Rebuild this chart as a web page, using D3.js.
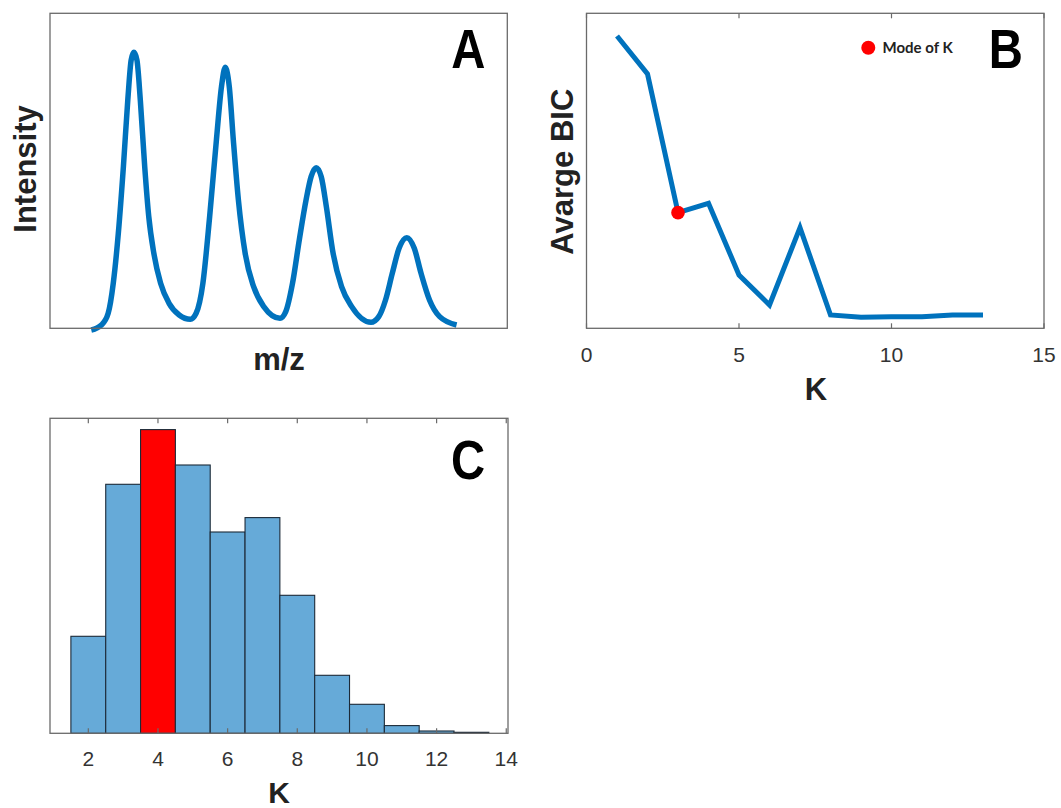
<!DOCTYPE html>
<html><head><meta charset="utf-8">
<script src="https://cdn.jsdelivr.net/npm/d3@7"></script>
<style>body{margin:0;background:#fff}svg{display:block}</style>
</head><body><svg id="c" width="1061" height="808"></svg>
<script>
// ---- Panel A: spectrum (arbitrary units) ----
const mzValues = [27.0,30.0,32.0,33.5,35.0,36.5,37.8,38.8,39.6,40.5,41.5,42.8,44.0,45.5,47.5,50.0,53.0,56.3,58.0,60.0,62.0,64.0,65.5,66.6,67.8,69.0,70.5,72.5,75.0,78.0,82.8,84.5,86.5,88.5,90.5,92.0,93.5,95.0,96.5,98.5,101.0,104.0,109.7,112.0,114.0,116.0,118.0,120.3,122.5,124.5,127.0,130.0,135.0];
const intensityValues = [-0.5,1.0,4.5,13.5,28.5,48.5,68.5,80.5,82.8,80.5,68.5,48.5,33.5,22.5,13.5,7.5,4.0,2.7,4.5,13.5,33.5,56.5,72.5,78.3,72.5,56.5,38.5,22.5,12.5,6.5,3.0,5.0,13.5,26.5,38.5,45.5,48.2,45.5,36.5,22.5,12.5,6.5,1.8,3.5,8.5,16.5,24.0,27.2,24.0,16.5,8.5,3.5,1.0];
const mzDomain = [14.8, 150.0];
const intensityDomain = [0, 94.5];

// ---- Panel B: average BIC vs K ----
const kValues = [1,2,3,4,5,6,7,8,9,10,11,12,13];
const bicValues = [87.7,76.3,34.7,37.5,16.0,7.0,30.2,4.0,3.3,3.5,3.5,4.0,4.0];
const modeK = 3;
const bTicks = [0,5,10,15];
const bDomainX = [0,15];
const bDomainY = [0,94.5];

// ---- Panel C: histogram of K ----
const binCenters = [2,3,4,5,6,7,8,9,10,11,12,13];
const binCounts = [97,249,303.7,268.3,201.3,215.7,138,58,29,7.7,2.3,1];
const histModeK = 4;
const cTicks = [2,4,6,8,10,12,14];
const cDomainX = [0.9,14.05];
const cDomainY = [0,315];

const svg = d3.select('#c');
svg.append('rect').attr('width',1061).attr('height',808).attr('fill','#fff');
const BLUE = '#0072BD', BOX = '#6a6a6a', TXT = '#333', LAB = '#222';
const labFont = 'Liberation Sans, Arial, Helvetica, sans-serif';

function box(g, x0, x1, y0, y1){
  g.append('rect').attr('x',x0).attr('y',y0).attr('width',x1-x0).attr('height',y1-y0)
   .attr('fill','none').attr('stroke',BOX).attr('stroke-width',1.3);
}
function bigLetter(txt, cx, base){
  svg.append('text').attr('transform',`translate(${cx},${base}) scale(0.86,1)`)
    .attr('text-anchor','middle').attr('font-family',labFont).attr('font-weight','bold')
    .attr('font-size',55).attr('fill','#000').text(txt);
}
function xTicks(g, x, ticks, y0, y1, labelY){
  const ax = g.append('g');
  ticks.forEach(t=>{
    ax.append('line').attr('x1',x(t)).attr('x2',x(t)).attr('y1',y1).attr('y2',y1-5).attr('stroke',BOX).attr('stroke-width',1.2);
    ax.append('line').attr('x1',x(t)).attr('x2',x(t)).attr('y1',y0).attr('y2',y0+5).attr('stroke',BOX).attr('stroke-width',1.2);
    ax.append('text').attr('x',x(t)).attr('y',labelY).attr('text-anchor','middle')
      .attr('font-family',labFont).attr('font-size',21).attr('fill',TXT).text(t);
  });
}

// ---------- Panel A ----------
{
  const g = svg.append('g');
  const x = d3.scaleLinear().domain(mzDomain).range([50,507.3]);
  const y = d3.scaleLinear().domain(intensityDomain).range([328.3,13.3]);
  const pts = mzValues.map((m,i)=>[m,intensityValues[i]]);
  g.append('path').datum(pts)
    .attr('d', d3.line().x(d=>x(d[0])).y(d=>y(d[1])).curve(d3.curveMonotoneX))
    .attr('fill','none').attr('stroke',BLUE).attr('stroke-width',5.5).attr('stroke-linejoin','round');
  box(g,50,507.3,13.3,328.3);
  g.append('text').attr('x',279).attr('y',370).attr('text-anchor','middle')
    .attr('font-family',labFont).attr('font-weight','bold').attr('font-size',31).attr('fill',LAB).text('m/z');
  g.append('text').attr('transform','translate(36,169) rotate(-90)').attr('text-anchor','middle')
    .attr('font-family',labFont).attr('font-weight','bold').attr('font-size',31).attr('fill',LAB).text('Intensity');
  bigLetter('A',468.3,68.3);
}

// ---------- Panel B ----------
{
  const g = svg.append('g');
  const x = d3.scaleLinear().domain(bDomainX).range([586.5,1044]);
  const y = d3.scaleLinear().domain(bDomainY).range([328.3,13.3]);
  const pts = kValues.map((k,i)=>[k,bicValues[i]]);
  g.append('path').datum(pts)
    .attr('d', d3.line().x(d=>x(d[0])).y(d=>y(d[1])))
    .attr('fill','none').attr('stroke',BLUE).attr('stroke-width',5).attr('stroke-linejoin','miter');
  const mi = kValues.indexOf(modeK);
  g.append('circle').attr('cx',x(modeK)).attr('cy',y(bicValues[mi])).attr('r',6.8).attr('fill','#ff0000');
  box(g,586.5,1044,13.3,328.3);
  xTicks(g,x,bTicks,13.3,328.3,361.5);
  g.append('text').attr('x',816).attr('y',400).attr('text-anchor','middle')
    .attr('font-family',labFont).attr('font-weight','bold').attr('font-size',31).attr('fill',LAB).text('K');
  g.append('text').attr('transform','translate(573,171.7) rotate(-90)').attr('text-anchor','middle')
    .attr('font-family',labFont).attr('font-weight','bold').attr('font-size',31).attr('fill',LAB).text('Avarge BIC');
  // legend
  g.append('circle').attr('cx',868.3).attr('cy',47.7).attr('r',7).attr('fill','#ff0000');
  g.append('text').attr('x',882.5).attr('y',53.3).attr('font-family','Lato, "Open Sans", sans-serif')
    .attr('font-weight','bold').attr('font-size',15).attr('fill','#222').text('Mode of K');
  bigLetter('B',1005.8,68.3);
}

// ---------- Panel C ----------
{
  const g = svg.append('g');
  const x = d3.scaleLinear().domain(cDomainX).range([50,508]);
  const y = d3.scaleLinear().domain(cDomainY).range([733.3,418.3]);
  g.selectAll('rect.bar').data(binCenters).enter().append('rect').attr('class','bar')
    .attr('x',d=>x(d-0.5)).attr('width',d=>x(d+0.5)-x(d-0.5))
    .attr('y',(d,i)=>y(binCounts[i])).attr('height',(d,i)=>y(0)-y(binCounts[i]))
    .attr('fill',d=>d===histModeK?'#ff0000':'#66aad8')
    .attr('stroke','#1c2a38').attr('stroke-width',1.1);
  box(g,50,508,418.3,733.3);
  xTicks(g,x,cTicks,418.3,733.3,766);
  g.append('text').attr('x',279).attr('y',803).attr('text-anchor','middle')
    .attr('font-family',labFont).attr('font-weight','bold').attr('font-size',30).attr('fill',LAB).text('K');
  bigLetter('C',468,479);
}
</script></body></html>
